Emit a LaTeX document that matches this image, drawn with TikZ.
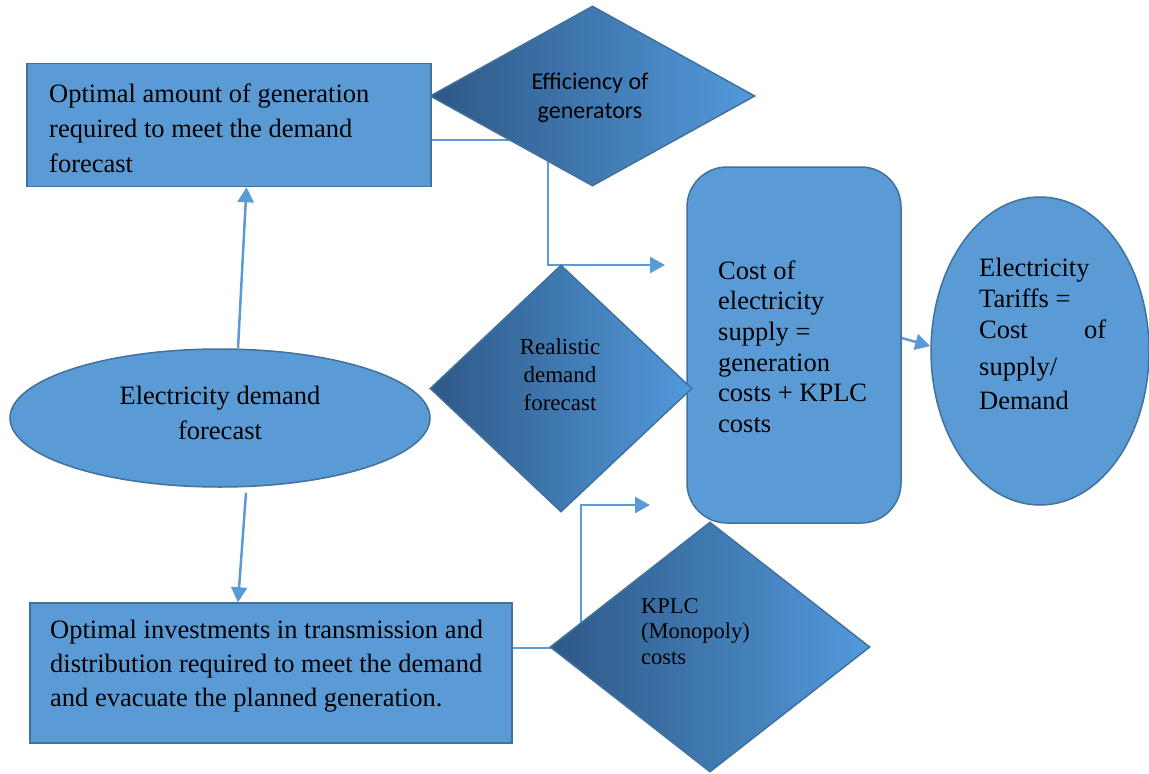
\documentclass[tikz,border=0pt]{standalone}
\usepackage{fontspec}
\setmainfont{Liberation Serif}
\newfontfamily\calib{Carlito}
\usetikzlibrary{shapes.geometric,arrows.meta,backgrounds}
\definecolor{fillc}{RGB}{91,155,213}
\definecolor{bordc}{RGB}{65,113,156}
\definecolor{dl}{RGB}{46,88,134}
\definecolor{dr}{RGB}{82,154,220}
\definecolor{connc}{RGB}{91,155,213}
\tikzset{
  shapebox/.style={draw=bordc, fill=fillc, line width=1.5pt, inner sep=0pt},
  decision/.style={diamond, draw=bordc, line width=1.5pt, left color=dl, right color=dr, inner sep=0pt},
  txt/.style={inner sep=0pt, align=left, text=black},
  conn/.style={draw=connc, line width=2.5pt},
  arr/.style={conn, -{Triangle[length=15pt,width=16pt]}},
}
\begin{document}
\begin{tikzpicture}[x=1pt,y=-1pt]
\useasboundingbox (0,0) rectangle (1149,774);
% shapes
\node[shapebox, rectangle, minimum width=404, minimum height=123] (toprect) at (229,125) {};
\node[shapebox, rectangle, minimum width=482, minimum height=140] (botrect) at (271,673) {};
\node[shapebox, ellipse, minimum width=420, minimum height=138] (demand) at (220,418) {};
\node[shapebox, rectangle, rounded corners=40pt, minimum width=214, minimum height=356] (cost) at (794,345) {};
\node[shapebox, ellipse, minimum width=218, minimum height=308] (tariff) at (1040,351) {};
\node[decision, minimum width=325, minimum height=180] (eff) at (592.5,96) {};
\node[decision, minimum width=262, minimum height=247] (real) at (561,388.5) {};
\node[decision, minimum width=320, minimum height=250] (kplc) at (710,647) {};
% texts
\node[txt, anchor=west, font=\fontsize{26.5}{35}\selectfont] (toptxt) at (49,128)
  {Optimal amount of generation\\required to meet the demand\\forecast};
\node[txt, anchor=west, font=\fontsize{26.5}{34}\selectfont] (bottxt) at (50,666)
  {Optimal investments in transmission and\\distribution required to meet the demand\\and evacuate the planned generation.};
\node[txt, align=center, font=\fontsize{26.5}{35}\selectfont] (demtxt) at (220,412.5)
  {Electricity demand\\forecast};
\node[txt, anchor=west, font=\fontsize{26.5}{30.6}\selectfont] (costtxt) at (718,346.5)
  {Cost of\\electricity\\supply =\\generation\\costs + KPLC\\costs};
\node[txt, anchor=west, font=\fontsize{26.5}{31}\selectfont] (tartxt) at (979,334)
  {Electricity\\Tariffs =\\\makebox[127pt][l]{Cost\hfill of}\\[6pt]supply/\\[3pt]Demand};
\node[txt, align=center, font=\calib\fontsize{24}{29}\selectfont] (efftxt) at (590,97.5)
  {Efficiency of\\generators};
\node[txt, align=center, font=\fontsize{23}{28}\selectfont] (realtxt) at (560,375)
  {Realistic\\demand\\forecast};
\node[txt, anchor=west, font=\fontsize{22.5}{25.5}\selectfont] (kplctxt) at (641,631.5)
  {KPLC\\(Monopoly)\\costs};
% free ends
\coordinate (ac1) at (665,265);
\coordinate (ac2) at (650,505);
% connectors
\begin{scope}[on background layer]
\draw[arr] ([yshift=-15pt]toprect.east) -| (548,265) -- (ac1);
\draw[arr] ([yshift=25pt]botrect.east) -- (581,648) |- (ac2);
\end{scope}
\draw[arr] ([xshift=18pt]demand.north) -- ([xshift=17.5pt]toprect.south);
\draw[arr] ([xshift=26pt,yshift=-5pt]demand.south) -- ([xshift=-33pt]botrect.north);
\draw[arr] ([yshift=7pt]cost.east) -- ([yshift=5pt]tariff.west);
\end{tikzpicture}
\end{document}
